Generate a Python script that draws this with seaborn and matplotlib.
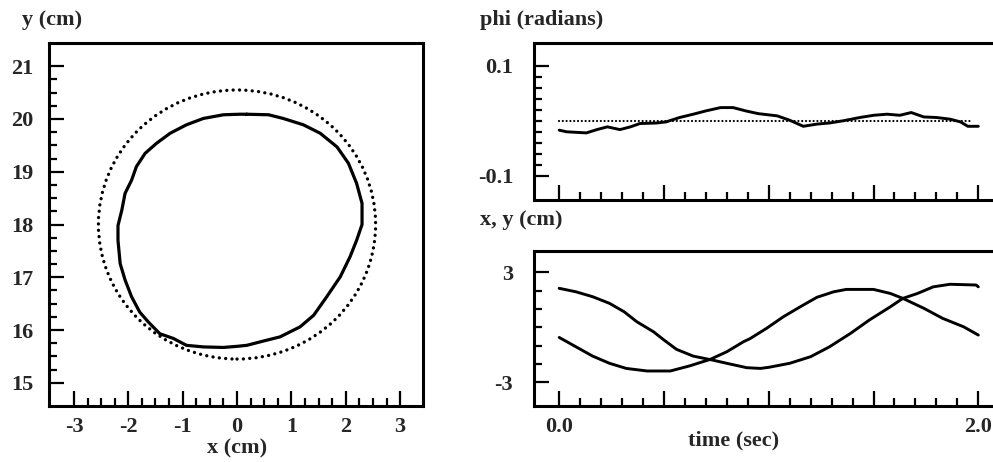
import numpy as np
import pandas as pd
import seaborn as sns
import matplotlib.pyplot as plt
from matplotlib.ticker import MultipleLocator, FixedLocator, FixedFormatter

# Hand trajectory in the plane (cm)
TRACE_X = [0.18, 0.05, -0.25, -0.62, -0.93, -1.23, -1.48, -1.69, -1.85, -1.94, -2.06, -2.12,
           -2.19, -2.19, -2.15, -2.06, -1.94, -1.79, -1.63, -1.42, -1.17, -0.93, -0.62, -0.25,
           -0.01, 0.18, 0.48, 0.79, 1.16, 1.41, 1.65, 1.90, 2.08, 2.20, 2.30, 2.30, 2.20, 2.05,
           1.84, 1.53, 1.22, 0.85, 0.58, 0.18]
TRACE_Y = [20.09, 20.09, 20.08, 20.01, 19.89, 19.73, 19.54, 19.35, 19.10, 18.84, 18.59, 18.27,
           17.98, 17.70, 17.26, 16.95, 16.63, 16.34, 16.15, 15.93, 15.84, 15.71, 15.68, 15.67,
           15.69, 15.71, 15.79, 15.87, 16.06, 16.28, 16.63, 17.01, 17.39, 17.70, 18.00, 18.40,
           18.78, 19.16, 19.47, 19.73, 19.89, 20.01, 20.08, 20.09]

# Target circle
CIRCLE_CENTER = (0.0, 18.0)
CIRCLE_RADIUS = 2.55

# phi over time
PHI_T = [0.0, 0.035, 0.13, 0.18, 0.23, 0.29, 0.34, 0.385, 0.465, 0.51, 0.575, 0.64, 0.70, 0.77,
         0.83, 0.89, 0.95, 1.04, 1.10, 1.165, 1.23, 1.29, 1.355, 1.435, 1.50, 1.565, 1.625,
         1.68, 1.74, 1.80, 1.865, 1.915, 1.95, 2.0]
PHI = [-0.017, -0.020, -0.022, -0.016, -0.011, -0.016, -0.011, -0.005, -0.004, -0.002, 0.006,
       0.012, 0.018, 0.024, 0.024, 0.018, 0.013, 0.009, 0.001, -0.010, -0.006, -0.004, 0.000,
       0.006, 0.010, 0.012, 0.010, 0.015, 0.007, 0.006, 0.003, -0.002, -0.010, -0.010]
PHI_REF_T = [0.0, 1.96]
PHI_REF = [0.0, 0.0]

# x and y over time (cm, relative to centre)
A_T = [0.0, 0.08, 0.16, 0.24, 0.31, 0.37, 0.45, 0.50, 0.56, 0.64, 0.73, 0.815, 0.895, 0.96,
       1.0, 1.10, 1.20, 1.29, 1.39, 1.48, 1.58, 1.64, 1.71, 1.785, 1.865, 1.99, 2.0]
A_VAL = [2.13, 1.94, 1.67, 1.31, 0.85, 0.31, -0.24, -0.69, -1.20, -1.57, -1.78, -2.00, -2.20,
         -2.24, -2.18, -1.96, -1.60, -1.06, -0.33, 0.40, 1.12, 1.58, 1.85, 2.21, 2.35, 2.31, 2.21]
B_T = [0.0, 0.08, 0.16, 0.24, 0.32, 0.42, 0.53, 0.62, 0.72, 0.80, 0.88, 0.91, 0.99, 1.07, 1.15,
       1.23, 1.31, 1.37, 1.50, 1.58, 1.64, 1.74, 1.83, 1.93, 2.0]
B_VAL = [-0.55, -1.06, -1.57, -1.96, -2.24, -2.38, -2.38, -2.11, -1.75, -1.33, -0.78, -0.62,
         -0.05, 0.58, 1.12, 1.64, 1.94, 2.07, 2.07, 1.85, 1.58, 1.04, 0.49, 0.03, -0.42]

sns.set_style("ticks")
plt.rcParams["font.family"] = ["Liberation Serif", "DejaVu Serif"]
plt.rcParams["font.weight"] = "bold"
plt.rcParams["axes.labelweight"] = "bold"
plt.rcParams["axes.unicode_minus"] = False
plt.rcParams["font.size"] = 16

fig = plt.figure(figsize=(9.93, 4.62), dpi=100)
ax1 = fig.add_axes([0.0493, 0.1212, 0.3766, 0.7857])
ax2 = fig.add_axes([0.5378, 0.5671, 0.4723, 0.3405])
ax3 = fig.add_axes([0.5378, 0.1212, 0.4723, 0.3361])

# Left panel: trajectory and circle
sns.lineplot(x=TRACE_X, y=TRACE_Y, sort=False, estimator=None, color="black", lw=2.3, ax=ax1)
ring = plt.Circle(CIRCLE_CENTER, CIRCLE_RADIUS, fill=False, color="black", lw=2.4,
                  ls=(0, (0.01, 1.9)))
ring.set_capstyle("round")
ax1.add_patch(ring)
ax1.set_xlim(-3.46, 3.42)
ax1.set_ylim(14.56, 21.44)
ax1.xaxis.set_major_locator(MultipleLocator(1))
ax1.xaxis.set_minor_locator(FixedLocator(np.arange(-3, 3.01, 0.25)))
ax1.yaxis.set_major_locator(MultipleLocator(1))
ax1.yaxis.set_minor_locator(FixedLocator(np.arange(15, 21.01, 0.25)))
ax1.set_xlabel("x (cm)")
ax1.xaxis.set_label_coords(0.503, -0.116)
ax1.xaxis.label.set_va("center")
ax1.set_ylabel("y (cm)", rotation=0, ha="left", va="center")
ax1.yaxis.set_label_coords(-0.072, 1.063)
ax1.tick_params(axis="y", pad=11)
ax1.tick_params(axis="x", pad=8)

# Top right: phi
sns.lineplot(x=PHI_T, y=PHI, sort=False, estimator=None, color="black", lw=2.1, ax=ax2)
sns.lineplot(x=PHI_REF_T, y=PHI_REF, sort=False, estimator=None, color="black", lw=1.6,
             ls=(0, (0.01, 1.7)), dash_capstyle="round", ax=ax2)
ax2.set_xlim(-0.12, 2.118)
ax2.set_ylim(-0.144, 0.142)
ax2.yaxis.set_major_locator(FixedLocator([-0.1, 0.1]))
ax2.yaxis.set_major_formatter(FixedFormatter(["-0.1", "0.1"]))
ax2.yaxis.set_minor_locator(FixedLocator(np.arange(-0.1, 0.1001, 0.02)))
ax2.xaxis.set_major_locator(FixedLocator([0.0, 0.5, 1.0, 1.5, 2.0]))
ax2.xaxis.set_minor_locator(FixedLocator(np.arange(0, 2.001, 0.1)))
ax2.tick_params(axis="x", labelbottom=False)
ax2.set_ylabel("phi (radians)", rotation=0, ha="left", va="center")
ax2.yaxis.set_label_coords(-0.115, 1.144)
ax2.tick_params(axis="y", pad=15)

# Bottom right: x, y
sns.lineplot(x=A_T, y=A_VAL, sort=False, estimator=None, color="black", lw=2.1, ax=ax3)
sns.lineplot(x=B_T, y=B_VAL, sort=False, estimator=None, color="black", lw=2.1, ax=ax3)
ax3.set_xlim(-0.12, 2.118)
ax3.set_ylim(-4.29, 4.18)
ax3.yaxis.set_major_locator(FixedLocator([-3, 3]))
ax3.yaxis.set_major_formatter(FixedFormatter(["-3", "3"]))
ax3.yaxis.set_minor_locator(FixedLocator(np.arange(-3, 3.01, 1)))
ax3.xaxis.set_major_locator(FixedLocator([0.0, 0.5, 1.0, 1.5, 2.0]))
ax3.xaxis.set_major_formatter(FixedFormatter(["0.0", "", "", "", "2.0"]))
ax3.xaxis.set_minor_locator(FixedLocator(np.arange(0, 2.001, 0.1)))
ax3.set_xlabel("time (sec)")
ax3.xaxis.set_label_coords(0.426, -0.219)
ax3.xaxis.label.set_va("center")
ax3.set_ylabel("x, y (cm)", rotation=0, ha="left", va="center")
ax3.yaxis.set_label_coords(-0.115, 1.198)
ax3.tick_params(axis="y", pad=15)
ax3.tick_params(axis="x", pad=8)

for ax in (ax1, ax2, ax3):
    for side in ("left", "right", "top", "bottom"):
        ax.spines[side].set_visible(True)
        ax.spines[side].set_linewidth(2.2)
        ax.spines[side].set_color("black")
    ax.tick_params(which="major", direction="in", length=11, width=1.6, color="black")
    ax.tick_params(which="minor", direction="in", length=5.5, width=1.6, color="black")
    ax.tick_params(top=False, right=False, which="both")
    ax.grid(False)

fig.savefig("out.png", dpi=100)
